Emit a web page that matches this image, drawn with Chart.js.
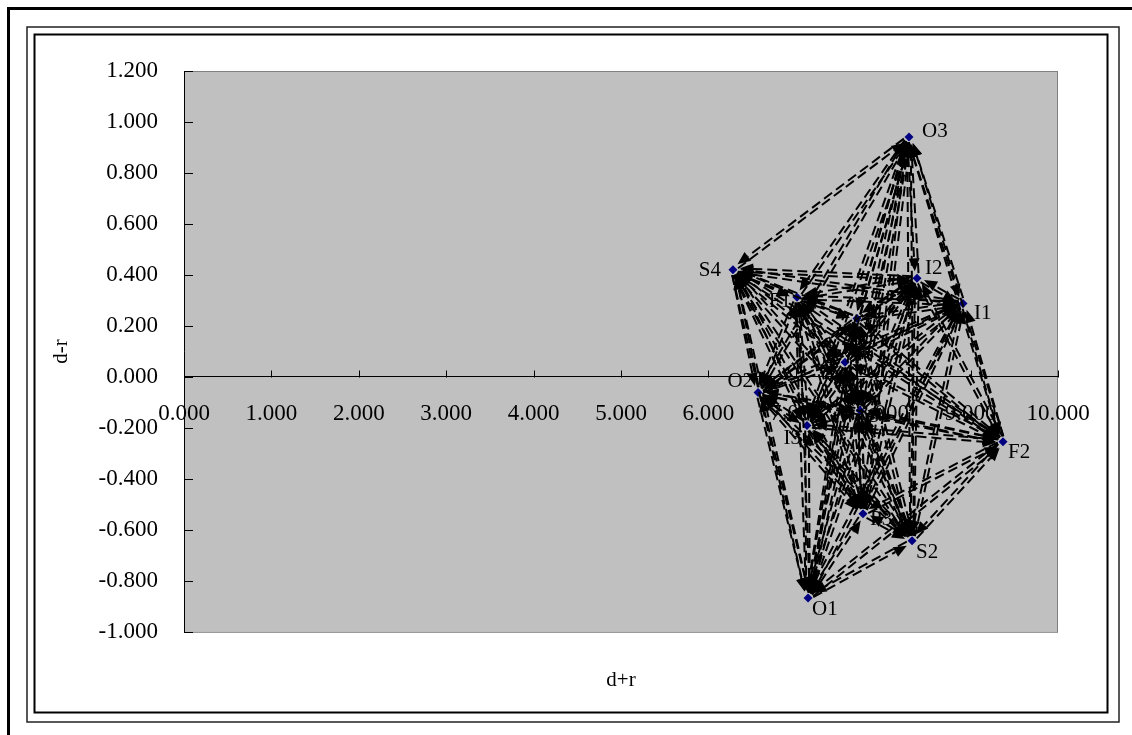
<!DOCTYPE html>
<html>
<head>
<meta charset="utf-8">
<title>d+r / d-r</title>
<script src="https://cdn.jsdelivr.net/npm/chart.js@4.4.1/dist/chart.umd.min.js"></script>
<style>
  html, body { margin: 0; padding: 0; background: #ffffff; }
  canvas { display: block; }
</style>
</head>
<body>
<canvas id="chart" width="1132" height="735"></canvas>
<script>
// Factors and their prominence (d+r) / relation (d-r) coordinates
const factorNames = ['O3', 'S4', 'I2', 'I1', 'F1', 'I4', 'O4', 'O2', 'I3', 'S1', 'F2', 'P3', 'S2', 'O1'];
const dPlusR  = [8.295, 6.281, 8.387, 8.913, 7.014, 7.700, 7.563, 6.568, 7.128, 7.735, 9.371, 7.769, 8.330, 7.140];
const dMinusR = [0.941, 0.420, 0.387, 0.288, 0.312, 0.229, 0.057, -0.061, -0.191, -0.132, -0.254, -0.537, -0.643, -0.867];

// Axis ticks
const xTicks = [0, 1, 2, 3, 4, 5, 6, 7, 8, 9, 10];
const yTicks = [-1.0, -0.8, -0.6, -0.4, -0.2, 0.0, 0.2, 0.4, 0.6, 0.8, 1.0, 1.2];

// Where each factor's name sits relative to its marker: [dx, dy, textAlign]
const nameOffsets = {
  O3: [13, -6, 'left'],  S4: [-12, 1, 'right'], I2: [8, -10, 'left'],
  I1: [11, 10, 'left'],  F1: [-6, 4, 'right'],  I4: [8, 5, 'left'],
  O4: [-8, -2, 'right'], O2: [-5, -11, 'right'], I3: [-6, 13, 'right'],
  S1: [8, 6, 'left'],    F2: [5, 11, 'left'],   P3: [7, 6, 'left'],
  S2: [4, 12, 'left'],   O1: [4, 12, 'left']
};

const SERIF = '"Liberation Serif", "Times New Roman", serif';

// Page frame, plot background and plot border
const framePlugin = {
  id: 'frame',
  beforeDraw(chart) {
    const { ctx, chartArea: a } = chart;
    ctx.save();
    ctx.fillStyle = '#ffffff';
    ctx.fillRect(0, 0, chart.width, chart.height);
    // heavy page rules
    ctx.strokeStyle = '#000000';
    ctx.lineWidth = 3;
    ctx.beginPath();
    ctx.moveTo(8.5, 735); ctx.lineTo(8.5, 8.5); ctx.lineTo(1132, 8.5);
    ctx.stroke();
    // double frame round the chart
    ctx.lineWidth = 1.5;
    ctx.strokeStyle = '#222222';
    ctx.strokeRect(27, 27, 1092, 695);
    ctx.lineWidth = 2;
    ctx.strokeStyle = '#000000';
    ctx.strokeRect(34.5, 34.5, 1073, 678);
    // plot area
    ctx.fillStyle = '#c0c0c0';
    ctx.fillRect(a.left, a.top, a.right - a.left, a.bottom - a.top);
    ctx.strokeStyle = '#808080';
    ctx.lineWidth = 1;
    ctx.strokeRect(a.left + 0.5, a.top + 0.5, a.right - a.left - 1, a.bottom - a.top);
    ctx.restore();
  },
  beforeDatasetsDraw(chart) {
    // inward tick marks on both axes
    const { ctx, scales: { x, y }, chartArea: a } = chart;
    const y0 = Math.round(y.getPixelForValue(0)) + 0.5;
    ctx.save();
    ctx.strokeStyle = '#000000';
    ctx.lineWidth = 1;
    ctx.beginPath();
    xTicks.forEach(v => {
      const px = Math.round(x.getPixelForValue(v)) + 0.5;
      ctx.moveTo(px, y0); ctx.lineTo(px, y0 - 7);
    });
    yTicks.forEach(v => {
      const py = Math.round(y.getPixelForValue(v)) + 0.5;
      ctx.moveTo(a.left, py); ctx.lineTo(a.left + 9, py);
    });
    ctx.stroke();
    ctx.restore();
  }
};

// Factor names next to the markers
const namePlugin = {
  id: 'names',
  afterDatasetsDraw(chart) {
    const { ctx, scales: { x, y } } = chart;
    ctx.save();
    ctx.font = '21px ' + SERIF;
    ctx.fillStyle = '#000000';
    ctx.textBaseline = 'middle';
    factorNames.forEach((name, i) => {
      const [dx, dy, al] = nameOffsets[name];
      ctx.textAlign = al;
      ctx.fillText(name, x.getPixelForValue(dPlusR[i]) + dx, y.getPixelForValue(dMinusR[i]) + dy);
    });
    ctx.restore();
  }
};

// Dashed influence arrows between every pair of factors
const arrowPlugin = {
  id: 'arrows',
  afterDraw(chart) {
    const { ctx, scales: { x, y } } = chart;
    const pts = dPlusR.map((v, i) => ({ px: x.getPixelForValue(v), py: y.getPixelForValue(dMinusR[i]) }));
    ctx.save();
    ctx.strokeStyle = '#000000';
    ctx.fillStyle = '#000000';
    ctx.lineWidth = 2;
    const headLen = 13, headHalf = 5.5, startGap = 5, endGap = 7, side = 1.8;
    for (let i = 0; i < pts.length; i++) {
      for (let j = 0; j < pts.length; j++) {
        if (i === j) continue;
        const a = pts[i], b = pts[j];
        let dx = b.px - a.px, dy = b.py - a.py;
        const len = Math.hypot(dx, dy);
        dx /= len; dy /= len;
        const nx = -dy, ny = dx;
        const sx = a.px + dx * startGap + nx * side, sy = a.py + dy * startGap + ny * side;
        const ex = b.px - dx * endGap + nx * side, ey = b.py - dy * endGap + ny * side;
        const bx = ex - dx * headLen, by = ey - dy * headLen;
        ctx.setLineDash([10, 5]);
        ctx.beginPath();
        ctx.moveTo(sx, sy);
        ctx.lineTo(bx, by);
        ctx.stroke();
        ctx.setLineDash([]);
        ctx.beginPath();
        ctx.moveTo(ex, ey);
        ctx.lineTo(bx + nx * headHalf, by + ny * headHalf);
        ctx.lineTo(bx - nx * headHalf, by - ny * headHalf);
        ctx.closePath();
        ctx.fill();
      }
    }
    ctx.restore();
  }
};

const fixedTicks = values => scale => { scale.ticks = values.map(v => ({ value: v })); };

new Chart(document.getElementById('chart'), {
  type: 'scatter',
  data: {
    datasets: [{
      label: 'd+r / d-r',
      data: dPlusR.map((v, i) => ({ x: v, y: dMinusR[i] })),
      pointStyle: 'rectRot',
      pointRadius: 4.5,
      pointHoverRadius: 4.5,
      backgroundColor: '#000080',
      borderColor: '#000080',
      borderWidth: 0
    }]
  },
  options: {
    responsive: false,
    animation: false,
    events: [],
    layout: { padding: { left: 0, top: 71, right: 74, bottom: 42 } },
    plugins: {
      legend: { display: false },
      tooltip: { enabled: false },
      title: {
        display: true,
        text: 'd+r',
        position: 'bottom',
        fullSize: false,
        color: '#000000',
        font: { family: SERIF, size: 21, weight: 'normal' },
        padding: { top: 36, bottom: 0 }
      }
    },
    scales: {
      x: {
        type: 'linear',
        min: 0, max: 10,
        position: { y: 0 },
        afterBuildTicks: fixedTicks(xTicks),
        grid: { display: false, drawTicks: false },
        border: { display: true, color: '#000000', width: 1 },
        ticks: {
          color: '#000000',
          padding: 23,
          maxRotation: 0,
          autoSkip: false,
          font: { family: SERIF, size: 23 },
          callback: v => Number(v).toFixed(3)
        }
      },
      y: {
        type: 'linear',
        min: -1, max: 1.2,
        position: 'left',
        afterBuildTicks: fixedTicks(yTicks),
        afterFit: scale => { scale.width = 184; },
        grid: { display: false, drawTicks: false },
        border: { display: true, color: '#000000', width: 1 },
        ticks: {
          color: '#000000',
          padding: 26,
          autoSkip: false,
          font: { family: SERIF, size: 23 },
          callback: v => Number(v).toFixed(3)
        },
        title: {
          display: true,
          text: 'd-r',
          color: '#000000',
          font: { family: SERIF, size: 21, weight: 'normal' },
          padding: { top: 49, bottom: 0 }
        }
      }
    }
  },
  plugins: [framePlugin, namePlugin, arrowPlugin]
});
</script>
</body>
</html>
